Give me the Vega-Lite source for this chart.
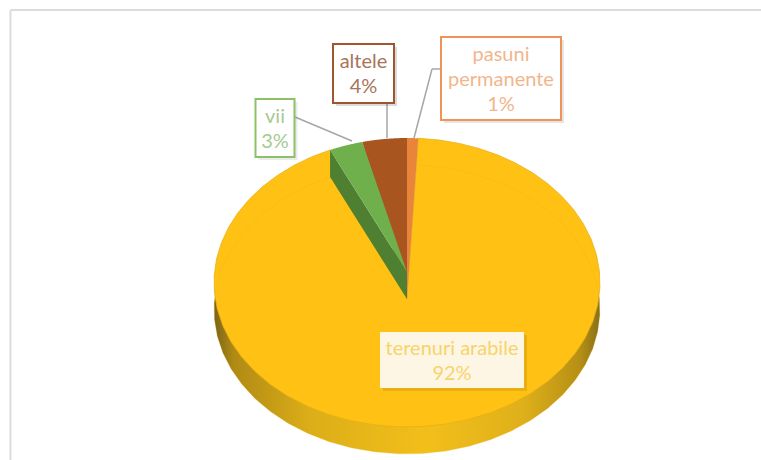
{
  "$schema": "https://vega.github.io/schema/vega-lite/v6.json",
  "width": 761,
  "height": 460,
  "padding": 0,
  "autosize": {"type": "none"},
  "background": "#ffffff",
  "config": {"view": {"stroke": null}},
  "data": {"values": [
    {"name": "pasuni permanente", "share": 1},
    {"name": "terenuri arabile", "share": 92},
    {"name": "vii", "share": 3},
    {"name": "altele", "share": 4}
  ]},
  "transform": [
    {"window": [{"op": "sum", "field": "share", "as": "end"}]},
    {"calculate": "datum.end - datum.share", "as": "start"},
    {"calculate": "[-1,0,0.02,0.04,0.06,0.08,0.1,0.12,0.14,0.16,0.18,0.2,0.22,0.24,0.26,0.28,0.3,0.32,0.34,0.36,0.38,0.4,0.42,0.44,0.46,0.48,0.5,0.52,0.54,0.56,0.58,0.6,0.62,0.64,0.66,0.68,0.7,0.72,0.74,0.76,0.78,0.8,0.82,0.84,0.86,0.88,0.9,0.92,0.94,0.96,0.98,1]", "as": "step"},
    {"flatten": ["step"]},
    {"calculate": "2 * PI * (datum.start + max(datum.step, 0) * datum.share) / 100", "as": "angle"},
    {"calculate": "1 + 0.0726 * cos(datum.angle)", "as": "persp"},
    {"calculate": "datum.step < 0 ? 0 : sin(datum.angle) / datum.persp", "as": "px"},
    {"calculate": "datum.step < 0 ? 0 : cos(datum.angle) / datum.persp", "as": "py"},
    {"calculate": "datum.py - 0.188", "as": "pyLow"},
    {"calculate": "datum.step < 0 ? 0.188 * -1 : datum.py", "as": "pyFace"}
  ],
  "layer": [
    {
      "transform": [{"filter": "datum.name == 'vii' && datum.step == -1"}],
      "mark": {"type": "rule", "stroke": "#dcdcdc", "strokeWidth": 2},
      "encoding": {
        "x": {"datum": -2.06, "type": "quantitative", "scale": {"domain": [-2.1143, 1.839], "nice": false, "zero": false}, "axis": null},
        "x2": {"datum": 1.839},
        "y": {"datum": 1.823, "type": "quantitative", "scale": {"domain": [-1.3083, 1.8928], "nice": false, "zero": false}, "axis": null}
      }
    },
    {
      "transform": [{"filter": "datum.name == 'vii' && datum.step == -1"}],
      "mark": {"type": "rule", "stroke": "#dcdcdc", "strokeWidth": 2},
      "encoding": {
        "x": {"datum": -2.06, "type": "quantitative"},
        "y": {"datum": 1.823, "type": "quantitative"},
        "y2": {"datum": -1.3083}
      }
    },
    {
      "transform": [{"filter": "datum.name == 'terenuri arabile'"}],
      "mark": {
        "type": "line",
        "interpolate": "linear-closed",
        "strokeWidth": 0,
        "fill": {
          "x1": 0, "y1": 0, "x2": 1, "y2": 0,
          "gradient": "linear",
          "stops": [
            {"offset": 0, "color": "#7a6418"},
            {"offset": 0.05, "color": "#b08a14"},
            {"offset": 0.25, "color": "#dcae18"},
            {"offset": 0.55, "color": "#f2bf1a"},
            {"offset": 0.8, "color": "#dfb01a"},
            {"offset": 0.95, "color": "#b58f15"},
            {"offset": 1, "color": "#86701a"}
          ]
        }
      },
      "encoding": {
        "x": {"field": "px", "type": "quantitative"},
        "y": {"field": "pyLow", "type": "quantitative"},
        "order": {"field": "step", "type": "quantitative"}
      }
    },
    {
      "transform": [{"filter": "datum.name == 'terenuri arabile'"}],
      "mark": {"type": "line", "interpolate": "linear-closed", "fill": "#ffc114", "stroke": "#e8b014", "strokeWidth": 0.8},
      "encoding": {
        "x": {"field": "px", "type": "quantitative"},
        "y": {"field": "pyFace", "type": "quantitative"},
        "order": {"field": "step", "type": "quantitative"}
      }
    },
    {
      "transform": [{"filter": "datum.name == 'terenuri arabile' && datum.step >= 0"}],
      "mark": {"type": "line", "stroke": "#eeb011", "strokeWidth": 1, "opacity": 0.25},
      "encoding": {
        "x": {"field": "px", "type": "quantitative"},
        "y": {"field": "pyLow", "type": "quantitative"},
        "order": {"field": "step", "type": "quantitative"}
      }
    },
    {
      "transform": [{"filter": "datum.name == 'pasuni permanente'"}],
      "mark": {"type": "line", "interpolate": "linear-closed", "fill": "#e9853a", "strokeWidth": 0},
      "encoding": {
        "x": {"field": "px", "type": "quantitative"},
        "y": {"field": "pyFace", "type": "quantitative"},
        "order": {"field": "step", "type": "quantitative"}
      }
    },
    {
      "transform": [{"filter": "datum.name == 'altele'"}],
      "mark": {"type": "line", "interpolate": "linear-closed", "fill": "#a8551f", "strokeWidth": 0},
      "encoding": {
        "x": {"field": "px", "type": "quantitative"},
        "y": {"field": "pyFace", "type": "quantitative"},
        "order": {"field": "step", "type": "quantitative"}
      }
    },
    {
      "transform": [{"filter": "datum.name == 'vii' && datum.step <= 0"}],
      "mark": {"type": "area", "fill": "#4f7f30"},
      "encoding": {
        "x": {"field": "px", "type": "quantitative"},
        "y": {"field": "py", "type": "quantitative"},
        "y2": {"field": "pyLow"}
      }
    },
    {
      "transform": [{"filter": "datum.name == 'vii'"}],
      "mark": {"type": "line", "interpolate": "linear-closed", "fill": "#6fb04d", "strokeWidth": 0},
      "encoding": {
        "x": {"field": "px", "type": "quantitative"},
        "y": {"field": "py", "type": "quantitative"},
        "order": {"field": "step", "type": "quantitative"}
      }
    },
    {
      "transform": [{"filter": "datum.name == 'vii' && datum.step == 0"}],
      "mark": {"type": "rule", "stroke": "#a6a6a6", "strokeWidth": 1.5},
      "encoding": {
        "x": {"datum": -0.5818, "type": "quantitative"},
        "x2": {"datum": -0.2857},
        "y": {"datum": 1.0786, "type": "quantitative"},
        "y2": {"datum": 0.9116}
      }
    },
    {
      "transform": [{"filter": "datum.name == 'altele' && datum.step == 0"}],
      "mark": {"type": "rule", "stroke": "#a6a6a6", "strokeWidth": 1.5},
      "encoding": {
        "x": {"datum": -0.1039, "type": "quantitative"},
        "y": {"datum": 1.1761, "type": "quantitative"},
        "y2": {"datum": 0.9325}
      }
    },
    {
      "transform": [{"filter": "datum.name == 'pasuni permanente' && datum.step == 0"}],
      "mark": {"type": "rule", "stroke": "#a6a6a6", "strokeWidth": 1.5},
      "encoding": {
        "x": {"datum": 0.1766, "type": "quantitative"},
        "x2": {"datum": 0.1299},
        "y": {"datum": 1.4127, "type": "quantitative"}
      }
    },
    {
      "transform": [{"filter": "datum.name == 'pasuni permanente' && datum.step == 0"}],
      "mark": {"type": "rule", "stroke": "#a6a6a6", "strokeWidth": 1.5},
      "encoding": {
        "x": {"datum": 0.1299, "type": "quantitative"},
        "x2": {"datum": 0.0364},
        "y": {"datum": 1.4127, "type": "quantitative"},
        "y2": {"datum": 0.9325}
      }
    },
    {
      "transform": [{"filter": "datum.name == 'pasuni permanente' && datum.step == 0"}],
      "mark": {"type": "rect", "fill": "#000000", "opacity": 0.1},
      "encoding": {
        "x": {"datum": 0.1922, "type": "quantitative"},
        "x2": {"datum": 0.8156},
        "y": {"datum": 1.6145, "type": "quantitative"},
        "y2": {"datum": 1.0369}
      }
    },
    {
      "transform": [{"filter": "datum.name == 'pasuni permanente' && datum.step == 0"}],
      "mark": {"type": "rect", "fill": "#ffffff", "stroke": "#ee9458", "strokeWidth": 2},
      "encoding": {
        "x": {"datum": 0.1766, "type": "quantitative"},
        "x2": {"datum": 0.8},
        "y": {"datum": 1.6354, "type": "quantitative"},
        "y2": {"datum": 1.0578}
      }
    },
    {
      "transform": [
        {"filter": "datum.name == 'pasuni permanente' && datum.step == 0"},
        {"calculate": "replace(datum.name, ' ', '\\n') + '\\n' + datum.share + '%'", "as": "label"}
      ],
      "mark": {"type": "text", "font": "Lato", "fontSize": 20, "lineBreak": "\n", "lineHeight": 25, "align": "center", "baseline": "middle", "color": "#f2b68c"},
      "encoding": {
        "x": {"datum": 0.4883, "type": "quantitative"},
        "y": {"datum": 1.5101, "type": "quantitative"},
        "text": {"field": "label"}
      }
    },
    {
      "transform": [{"filter": "datum.name == 'altele' && datum.step == 0"}],
      "mark": {"type": "rect", "fill": "#000000", "opacity": 0.14},
      "encoding": {
        "x": {"datum": -0.3688, "type": "quantitative"},
        "x2": {"datum": -0.0519},
        "y": {"datum": 1.5657, "type": "quantitative"},
        "y2": {"datum": 1.1552}
      }
    },
    {
      "transform": [{"filter": "datum.name == 'altele' && datum.step == 0"}],
      "mark": {"type": "rect", "fill": "#ffffff", "stroke": "#a0552c", "strokeWidth": 2},
      "encoding": {
        "x": {"datum": -0.3844, "type": "quantitative"},
        "x2": {"datum": -0.0675},
        "y": {"datum": 1.5866, "type": "quantitative"},
        "y2": {"datum": 1.1761}
      }
    },
    {
      "transform": [
        {"filter": "datum.name == 'altele' && datum.step == 0"},
        {"calculate": "datum.name + '\\n' + datum.share + '%'", "as": "label"}
      ],
      "mark": {"type": "text", "font": "Lato", "fontSize": 20, "lineBreak": "\n", "lineHeight": 25, "align": "center", "baseline": "middle", "color": "#a9745a"},
      "encoding": {
        "x": {"datum": -0.226, "type": "quantitative"},
        "y": {"datum": 1.4614, "type": "quantitative"},
        "text": {"field": "label"}
      }
    },
    {
      "transform": [{"filter": "datum.name == 'vii' && datum.step == 0"}],
      "mark": {"type": "rect", "fill": "#000000", "opacity": 0.08},
      "encoding": {
        "x": {"datum": -0.7714, "type": "quantitative"},
        "x2": {"datum": -0.5688},
        "y": {"datum": 1.183, "type": "quantitative"},
        "y2": {"datum": 0.7794}
      }
    },
    {
      "transform": [{"filter": "datum.name == 'vii' && datum.step == 0"}],
      "mark": {"type": "rect", "fill": "#ffffff", "stroke": "#8cc168", "strokeWidth": 2},
      "encoding": {
        "x": {"datum": -0.787, "type": "quantitative"},
        "x2": {"datum": -0.5844},
        "y": {"datum": 1.2039, "type": "quantitative"},
        "y2": {"datum": 0.8003}
      }
    },
    {
      "transform": [
        {"filter": "datum.name == 'vii' && datum.step == 0"},
        {"calculate": "datum.name + '\\n' + datum.share + '%'", "as": "label"}
      ],
      "mark": {"type": "text", "font": "Lato", "fontSize": 20, "lineBreak": "\n", "lineHeight": 25, "align": "center", "baseline": "middle", "color": "#a5cb92"},
      "encoding": {
        "x": {"datum": -0.6857, "type": "quantitative"},
        "y": {"datum": 1.0786, "type": "quantitative"},
        "text": {"field": "label"}
      }
    },
    {
      "transform": [{"filter": "datum.name == 'terenuri arabile' && datum.step == 0"}],
      "mark": {"type": "rect", "fill": "#a87a00", "opacity": 0.25},
      "encoding": {
        "x": {"datum": -0.1247, "type": "quantitative"},
        "x2": {"datum": 0.6234},
        "y": {"datum": -0.4384, "type": "quantitative"},
        "y2": {"datum": -0.8281}
      }
    },
    {
      "transform": [{"filter": "datum.name == 'terenuri arabile' && datum.step == 0"}],
      "mark": {"type": "rect", "fill": "#fef6e4"},
      "encoding": {
        "x": {"datum": -0.1403, "type": "quantitative"},
        "x2": {"datum": 0.6078},
        "y": {"datum": -0.4175, "type": "quantitative"},
        "y2": {"datum": -0.8072}
      }
    },
    {
      "transform": [
        {"filter": "datum.name == 'terenuri arabile' && datum.step == 0"},
        {"calculate": "datum.name + '\\n' + datum.share + '%'", "as": "label"}
      ],
      "mark": {"type": "text", "font": "Lato", "fontSize": 20, "lineBreak": "\n", "lineHeight": 25, "align": "center", "baseline": "middle", "color": "#f7d36b"},
      "encoding": {
        "x": {"datum": 0.2338, "type": "quantitative"},
        "y": {"datum": -0.5358, "type": "quantitative"},
        "text": {"field": "label"}
      }
    }
  ]
}
